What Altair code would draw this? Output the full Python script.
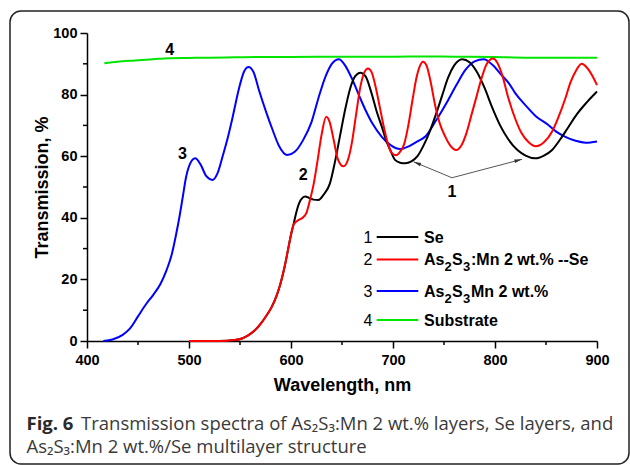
import math
import altair as alt
import pandas as pd

# ---------------- spectra: wavelength (nm) / transmission (%) ----------------
# 1 - Se layer
se_wl = [500, 530, 545, 552, 558, 564, 570, 576, 581, 586, 590, 594, 597, 600, 602.4,
         605, 608, 611, 614, 618, 622, 627, 632, 638, 643, 648, 653, 658, 663, 668,
         673, 679, 684, 689, 694, 698, 702, 707, 712, 718, 724, 730, 736, 742, 748,
         754, 760, 768, 775, 782, 790, 797, 805, 813, 822, 830, 839.5, 848, 856, 864,
         872, 880, 890, 900]
se_t = [0, 0, 0.3, 0.8, 1.8, 3.3, 5.5, 8.3, 11, 14.8, 19, 24.5, 29.5, 34.5, 37.7,
        41.5, 44.8, 46.4, 46.9, 46.4, 45.9, 45.8, 47.5, 51, 58, 66.5, 75, 82, 86, 87.1,
        86, 80.4, 74.5, 69.6, 64.5, 61.5, 58.8, 57.9, 57.7, 58.3, 60, 63.5, 68, 73.5, 79.5,
        85.5, 89.5, 91.5, 90.5, 87.5, 82, 76, 70, 65.5, 62, 60.2, 59.3, 60.2, 62, 65.5,
        69.5, 73.5, 77.5, 81]

# 2 - As2S3:Mn 2 wt.% / Se multilayer
mnse_wl = [500, 530, 545, 552, 558, 564, 570, 576, 581, 586, 590, 594, 597, 600, 602.4,
           605, 608, 612, 615, 618, 622, 626, 630, 634.5, 638, 642, 646, 651.5, 656, 660,
           664, 668, 672, 675.5, 679, 683, 687, 691, 695, 699, 703, 707, 711, 715, 719,
           723, 726, 729.5, 733, 737, 741, 746, 751, 756, 762, 767, 772, 777, 782, 787,
           792, 798, 802, 807, 813, 820, 826, 833, 840, 848, 856, 862, 869, 874, 879,
           885, 890, 895, 900]
mnse_t = [0, 0, 0.3, 0.8, 1.8, 3.3, 5.5, 8.3, 11, 14.8, 19, 24.5, 29.5, 34.5, 37.7,
          38.7, 39.4, 40.2, 41.5, 45, 50.6, 58.5, 67, 72.8, 71, 65, 59, 56.7, 59, 65,
          74, 82.5, 87.3, 88.5, 87.3, 82.5, 76, 69.5, 64, 61, 60.3, 61.5, 64, 70, 78,
          85.5, 89, 90.7, 89.3, 84, 77, 70.5, 66.5, 63.5, 62, 63.5, 67.5, 73.5, 79.5, 85.5,
          90, 91.7, 90.5, 86.4, 79, 72, 67.5, 64.5, 63.2, 64.5, 68, 72.5, 78.8, 84, 87.5,
          90, 88.8, 86.4, 83.1]

# 3 - As2S3Mn 2 wt.% layer
mn_wl = [416, 425, 435, 442, 450, 458, 465, 472, 478, 483, 487, 491, 494, 497, 501,
         506, 511, 517, 523, 528, 533, 538, 543, 549, 554, 558.3, 563, 569, 576, 582,
         588, 596.5, 604, 612, 620, 627, 634, 640, 647, 653, 660, 667, 673, 680, 689,
         698, 707, 716, 724, 732, 742, 754, 762, 771, 780, 789, 798, 806, 814, 820,
         830, 840, 852, 860, 869, 879, 889, 900]
mn_t = [0, 0.5, 2, 4, 8, 12, 15, 18.5, 23, 28, 34, 41, 47, 53, 57.5,
        59.3, 57.5, 53.5, 52.3, 54.5, 60, 66, 73, 82, 87.5, 89, 87.5, 81, 74, 68.5,
        63.5, 60.4, 61.5, 65.3, 71, 79, 86, 90, 91.5, 89.5, 85, 79.5, 75, 70.5, 66.3,
        63.5, 62.3, 63.3, 64.8, 66.5, 71.5, 78.2, 83, 88, 90.8, 91.5, 89.5, 86.5, 83.5, 80.4,
        76.5, 73, 70.2, 68, 66.3, 65, 64.4, 64.8]

# 4 - substrate
sub_wl = [417, 430, 447, 465, 480, 500, 520, 545, 570, 600, 650, 700, 730, 760, 800, 830, 860, 900]
sub_t = [90.2, 90.7, 91.1, 91.5, 91.8, 91.9, 92.0, 92.1, 92.2, 92.2, 92.3, 92.3, 92.4, 92.3,
         92.2, 92.0, 92.0, 92.0]

# axis ticks
x_ticks = [400, 500, 600, 700, 800, 900]
x_minor = [450, 550, 650, 750, 850]
y_ticks = [0, 20, 40, 60, 80, 100]
y_minor = [10, 30, 50, 70, 90]

# curve numbers written beside the curves
tag_text = ["4", "3", "2", "1"]
tag_wl = [481, 493.5, 612, 757.8]
tag_t = [94.6, 60.6, 53.8, 48.3]

# pointers from tag "1" to the two Se minima
ptr_from_wl = [757.8, 757.8]
ptr_from_t = [53.0, 53.0]
ptr_to_wl = [720.1, 826.5]
ptr_to_t = [58.2, 59.0]

# ---------------- layout ----------------
W, H = 510, 308
X0, X1 = 400, 900
Y0, Y1 = 0, 100
FONT = "Liberation Sans"
CAP_FONT = "Open Sans"

xs = alt.Scale(domain=[X0, X1], nice=False, zero=False)
ys = alt.Scale(domain=[Y0, Y1], nice=False, zero=False)

x_axis = alt.Axis(
    values=x_ticks, title="Wavelength, nm", grid=False,
    labelFont=FONT, labelFontSize=14.5, labelFontWeight="bold", labelColor="black",
    labelPadding=5, labelFlush=False, labelOverlap=False,
    tickSize=7, tickWidth=1.5, tickColor="black",
    domainColor="black", domainWidth=1.5,
    titleFont=FONT, titleFontSize=18, titleFontWeight="bold", titleColor="black",
    titlePadding=10,
)
y_axis = alt.Axis(
    values=y_ticks, title="Transmission, %", grid=False,
    labelFont=FONT, labelFontSize=14.5, labelFontWeight="bold", labelColor="black",
    labelPadding=3, labelFlush=False, labelOverlap=False,
    tickSize=7, tickWidth=1.5, tickColor="black",
    domainColor="black", domainWidth=1.5,
    titleFont=FONT, titleFontSize=18, titleFontWeight="bold", titleColor="black",
    titlePadding=1,
)


def ex(field):
    return alt.X(field, type="quantitative", scale=xs, axis=x_axis)


def ey(field):
    return alt.Y(field, type="quantitative", scale=ys, axis=y_axis)


one = pd.DataFrame({"k": [0]})
layers = []

# spectra, drawn substrate first and the multilayer on top
series = [
    (sub_wl, sub_t, "#00e600"),
    (mn_wl, mn_t, "#0000ff"),
    (se_wl, se_t, "#000000"),
    (mnse_wl, mnse_t, "#ff0000"),
]
for wl, t, col in series:
    df = pd.DataFrame({"wl": wl, "t": t})
    layers.append(
        alt.Chart(df).mark_line(color=col, strokeWidth=2, interpolate="monotone").encode(
            x=ex("wl"), y=ey("t"))
    )

# minor ticks
layers.append(
    alt.Chart(pd.DataFrame({"wl": x_minor})).mark_rule(color="black", strokeWidth=1.5).encode(
        x=ex("wl"), y=alt.value(H), y2=alt.value(H + 4))
)
layers.append(
    alt.Chart(pd.DataFrame({"t": y_minor})).mark_rule(color="black", strokeWidth=1.5).encode(
        y=ey("t"), x=alt.value(0), x2=alt.value(-4))
)

# curve numbers
layers.append(
    alt.Chart(pd.DataFrame({"wl": tag_wl, "t": tag_t, "s": tag_text})).mark_text(
        font=FONT, fontSize=16, fontWeight="bold", color="black").encode(
        x=ex("wl"), y=ey("t"), text="s:N")
)

# pointer lines with arrowheads
px_nm = W / (X1 - X0)
px_pct = H / (Y1 - Y0)
angles = []
for fw, ft, tw, tt in zip(ptr_from_wl, ptr_from_t, ptr_to_wl, ptr_to_t):
    dx = (tw - fw) * px_nm
    dy = -(tt - ft) * px_pct
    angles.append(math.degrees(math.atan2(dx, -dy)) % 360)
ptr = pd.DataFrame({"wl": ptr_from_wl, "t": ptr_from_t, "wl2": ptr_to_wl, "t2": ptr_to_t, "ang": angles})
layers.append(
    alt.Chart(ptr).mark_rule(color="#555555", strokeWidth=1).encode(
        x=ex("wl"), y=ey("t"), x2="wl2:Q", y2="t2:Q")
)
layers.append(
    alt.Chart(ptr[["wl2", "t2", "ang"]].rename(columns={"wl2": "wl", "t2": "t"})).mark_point(
        shape="M0,0L-0.32,1.4L0.32,1.4Z", filled=True, opacity=1,
        color="#333333", size=120).encode(
        x=ex("wl"), y=ey("t"), angle=alt.Angle("ang:Q", scale=None))
)

# legend (drawn by hand so the labels can carry subscripts)
LEG_NUM_X, LEG_L0, LEG_L1, LEG_TX = 281, 289.7, 331.3, 337
leg_rows = [
    ("1", "#000000", 204, [("Se", 0, 0)]),
    ("2", "#ff0000", 226.5, [("As", 0, 0), ("2", 20.5, 1), ("S", 28, 0), ("3", 39, 1),
                             (":Mn 2 wt.% --Se", 47, 0)]),
    ("3", "#0000ff", 258, [("As", 0, 0), ("2", 20.5, 1), ("S", 28, 0), ("3", 39, 1),
                           ("Mn 2 wt.%", 47, 0)]),
    ("4", "#00e600", 287, [("Substrate", 0, 0)]),
]
for num, col, cy, pieces in leg_rows:
    layers.append(
        alt.Chart(one).mark_text(font=FONT, fontSize=16, color="black", align="center",
                                 baseline="middle").encode(
            x=alt.value(LEG_NUM_X), y=alt.value(cy + 0.5), text=alt.value(num))
    )
    layers.append(
        alt.Chart(one).mark_rule(color=col, strokeWidth=2).encode(
            x=alt.value(LEG_L0), x2=alt.value(LEG_L1), y=alt.value(cy))
    )
    base = cy + 5.8
    for txt, off, sub in pieces:
        layers.append(
            alt.Chart(one).mark_text(font=FONT, fontSize=13 if sub else 16, fontWeight="bold",
                                     color="black", align="left", baseline="alphabetic").encode(
                x=alt.value(LEG_TX + off), y=alt.value(base + (6 if sub else 0)),
                text=alt.value(txt))
        )

# figure caption
layers.append(
    alt.Chart(one).mark_text(font=CAP_FONT, fontSize=18.5, fontWeight="bold", color="#2a2a2a",
                             align="left", baseline="alphabetic").encode(
        x=alt.value(-60.5), y=alt.value(397), text=alt.value("Fig. 6"))
)
layers.append(
    alt.Chart(one).mark_text(font=CAP_FONT, fontSize=18.5, color="#3a3a3a",
                             align="left", baseline="alphabetic").encode(
        x=alt.value(-6), y=alt.value(397),
        text=alt.value("Transmission spectra of As\u2082S\u2083:Mn 2 wt.% layers, Se layers, and"))
)
layers.append(
    alt.Chart(one).mark_text(font=CAP_FONT, fontSize=18.5, color="#3a3a3a",
                             align="left", baseline="alphabetic").encode(
        x=alt.value(-60.5), y=alt.value(420.3),
        text=alt.value("As\u2082S\u2083:Mn 2 wt.%/Se multilayer structure"))
)

# rounded frame around figure and caption
layers.append(
    alt.Chart(one).mark_rect(fillOpacity=0, stroke="#222222", strokeWidth=1.5, cornerRadius=11).encode(
        x=alt.value(-77), x2=alt.value(542), y=alt.value(-22), y2=alt.value(431))
)

chart = alt.layer(*layers).properties(
    width=W, height=H,
    padding={"left": 87, "top": 33, "right": 33, "bottom": 124},
    autosize=alt.AutoSizeParams(type="none"),
    background="white",
).configure_view(stroke=None)

chart.save("out.html", embed_options={"renderer": "svg", "actions": False})
